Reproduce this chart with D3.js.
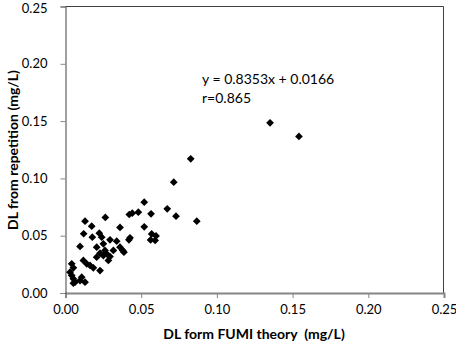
<!DOCTYPE html>
<html>
<head>
<meta charset="utf-8">
<script src="https://cdn.jsdelivr.net/npm/d3@7"></script>
<style>
  body { margin: 0; background: #fff; }
  svg text { font-family: Lato, "Open Sans", sans-serif; fill: #000; }
</style>
</head>
<body>
<div id="chart"></div>
<script>
// DL values (mg/L)
var dlFumi = [0.1351, 0.1542, 0.0827, 0.0715, 0.0867, 0.0730, 0.0672, 0.0520, 0.0565, 0.0481,
              0.0421, 0.0441, 0.0263, 0.0520, 0.0360, 0.0129, 0.0173, 0.0120, 0.0223, 0.0569,
              0.0598, 0.0562, 0.0592, 0.0177, 0.0239, 0.0426, 0.0419, 0.0294, 0.0250, 0.0338,
              0.0096, 0.0206, 0.0360, 0.0378, 0.0386, 0.0316, 0.0261, 0.0228, 0.0250, 0.0272,
              0.0206, 0.0294, 0.0283, 0.0118, 0.0140, 0.0162, 0.0184, 0.0228, 0.0041, 0.0052,
              0.0030, 0.0041, 0.0052, 0.0063, 0.0107, 0.0096, 0.0129, 0.0052];
var dlRepeat = [0.1485, 0.1366, 0.1171, 0.0967, 0.0627, 0.0670, 0.0735, 0.0792, 0.0691, 0.0705,
                0.0685, 0.0696, 0.0659, 0.0578, 0.0572, 0.0627, 0.0583, 0.0517, 0.0522, 0.0515,
                0.0498, 0.0463, 0.0459, 0.0487, 0.0487, 0.0482, 0.0464, 0.0464, 0.0429, 0.0452,
                0.0406, 0.0400, 0.0400, 0.0371, 0.0356, 0.0371, 0.0371, 0.0347, 0.0327, 0.0342,
                0.0312, 0.0318, 0.0284, 0.0284, 0.0255, 0.0240, 0.0220, 0.0196, 0.0255, 0.0220,
                0.0182, 0.0153, 0.0124, 0.0094, 0.0138, 0.0109, 0.0094, 0.0086];
var xTicks = [0, 0.05, 0.10, 0.15, 0.20, 0.25];
var yTicks = [0, 0.05, 0.10, 0.15, 0.20, 0.25];
var fitText = ["y = 0.8353x + 0.0166", "r=0.865"];

var data = dlFumi.map(function(d, i) { return {x: d, y: dlRepeat[i]}; });

var svg = d3.select("#chart").append("svg").attr("width", 456).attr("height", 344);

// plot area box
var margin = {top: 6.5, right: 12, bottom: 51, left: 65.5};
var w = 456 - margin.left - margin.right;
var h = 344 - margin.top - margin.bottom;
var g = svg.append("g").attr("transform", "translate(" + margin.left + "," + margin.top + ")");

var xScale = d3.scaleLinear().domain([0, 0.25]).range([0, w]);
var yScale = d3.scaleLinear().domain([0, 0.25]).range([h, 0]);

// top + right border
g.append("path")
    .attr("d", "M0,0H" + (w - 0.5) + "V" + h)
    .attr("fill", "none")
    .attr("stroke", "#404040")
    .attr("stroke-width", 1);

// axes
var xAxis = g.append("g")
    .attr("transform", "translate(0," + h + ")")
    .call(d3.axisBottom(xScale).tickValues(xTicks).tickFormat(d3.format(".2f")).tickSizeOuter(0).tickSize(5).tickPadding(7));
var yAxis = g.append("g")
    .call(d3.axisLeft(yScale).tickValues(yTicks).tickFormat(d3.format(".2f")).tickSizeOuter(0).tickSize(5).tickPadding(13));

xAxis.select(".domain").attr("stroke", "#868686").attr("stroke-width", 2);
yAxis.select(".domain").attr("stroke", "#404040").attr("stroke-width", 1);
g.selectAll(".tick line").attr("stroke", "#868686");
g.selectAll(".tick text").style("font-size", "13px").style("font-family", "Lato, sans-serif");
// keep the top label inside the page
yAxis.selectAll(".tick text").filter(function(d) { return d === 0.25; }).attr("dy", "0.45em");

// diamond markers
var diamond = d3.symbol().type(d3.symbolSquare).size(30);
g.selectAll(".pt")
    .data(data)
    .enter()
    .append("path")
    .attr("class", "pt")
    .attr("d", diamond)
    .attr("transform", function(d) {
        return "translate(" + xScale(d.x) + "," + yScale(d.y) + ") rotate(45)";
    })
    .attr("fill", "#000");

// regression label
g.selectAll(".fit")
    .data(fitText)
    .enter()
    .append("text")
    .attr("class", "fit")
    .attr("x", 202 - margin.left)
    .attr("y", function(d, i) { return 84 - margin.top + i * 19; })
    .style("font-size", "14px")
    .text(function(d) { return d; });

// axis titles
svg.append("text")
    .attr("x", 254)
    .attr("y", 339)
    .style("text-anchor", "middle")
    .style("font-size", "14px")
    .style("font-weight", "bold")
    .style("white-space", "pre")
    .text("DL form FUMI theory  (mg/L)");

svg.append("text")
    .attr("transform", "translate(13,150) rotate(-90)")
    .attr("dy", "0.35em")
    .style("text-anchor", "middle")
    .style("font-size", "14px")
    .style("font-weight", "bold")
    .text("DL from repetition (mg/L)");
</script>
</body>
</html>
